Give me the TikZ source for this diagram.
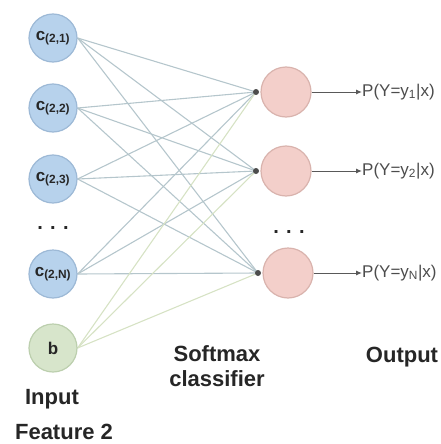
\documentclass[tikz,border=0pt]{standalone}
\usepackage{fontspec}
\setmainfont{Liberation Sans}
\usetikzlibrary{arrows.meta,backgrounds}
\definecolor{inblue}{HTML}{B7D2EC}
\definecolor{inbluedraw}{HTML}{9DB9D6}
\definecolor{ingreen}{HTML}{D7E5CB}
\definecolor{ingreendraw}{HTML}{BCCFAE}
\definecolor{outpink}{HTML}{F3CFCA}
\definecolor{outpinkdraw}{HTML}{D9B3AD}
\definecolor{wireblue}{HTML}{B5C6CC}
\definecolor{wiregreen}{HTML}{D6E2C4}
\begin{document}
\begin{tikzpicture}[x=1pt,y=1pt,
  innode/.style={circle,minimum size=48pt,inner sep=0pt,fill=inblue,draw=inbluedraw,line width=1.2pt,font=\fontsize{17}{17}\selectfont\bfseries,text=black!85},
  bnode/.style={innode,fill=ingreen,draw=ingreendraw},
  outnode/.style={circle,minimum size=50pt,inner sep=0pt,fill=outpink,draw=outpinkdraw,line width=1.2pt},
  joint/.style={circle,fill=black!70,inner sep=0pt,minimum size=6pt},
  wire/.style={draw=wireblue,line width=1.1pt},
  bwire/.style={draw=wiregreen,line width=1.1pt},
  outarrow/.style={draw=black!65,line width=1pt,-{Latex[length=6pt,width=5pt]}},
  plab/.style={font=\fontsize{17}{17}\selectfont,text=black!70,anchor=west,inner sep=0pt},
  head/.style={font=\fontsize{22}{25}\selectfont\bfseries,text=black!85,align=center},
  dots/.style={font=\fontsize{20}{20}\selectfont\bfseries,text=black!85}
]
\useasboundingbox (0,0) rectangle (440,-444);
% input nodes
\node[innode] (c1) at (53,-38) {c\textsubscript{(2,1)}};
\node[innode] (c2) at (53,-108) {c\textsubscript{(2,2)}};
\node[innode] (c3) at (53,-179) {c\textsubscript{(2,3)}};
\node[innode] (cN) at (53,-274) {c\textsubscript{(2,N)}};
\node[bnode] (b) at (53,-348) {b};
\node[dots] (din) at (53,-228) {. . .};
% output nodes
\node[outnode] (o1) at (286,-92) {};
\node[outnode] (o2) at (286,-171) {};
\node[outnode] (o3) at (288,-273) {};
\node[joint] (k1) at (256,-92) {};
\node[joint] (k2) at (256,-171) {};
\node[joint] (k3) at (258,-273) {};
\node[dots] (dout) at (289,-232) {. . .};
% wires behind the nodes
\begin{pgfonlayer}{background}
\foreach \i in {c1,c2,c3,cN}{
  \foreach \j in {k1,k2,k3}{
    \draw[wire] (\i.east) -- (\j.center);
  }
}
\foreach \j in {k1,k2,k3}{
  \draw[bwire] (b.east) -- (\j.center);
}
\end{pgfonlayer}
% output labels
\node[plab] (p1) at (362,-92) {P(Y=y\textsubscript{1}|x)};
\node[plab] (p2) at (362,-171) {P(Y=y\textsubscript{2}|x)};
\node[plab] (p3) at (362,-273) {P(Y=y\textsubscript{N}|x)};
\draw[outarrow] (o1.east) -- (p1.west);
\draw[outarrow] (o2.east) -- (p2.west);
\draw[outarrow] (o3.east) -- (p3.west);
% headings
\node[head] (soft) at (217,-366) {Softmax\\classifier};
\node[head] (outh) at (402,-357) {Output};
\node[head] (inh) at (52,-399) {Input};
\node[head] (feat) at (64,-432) {Feature 2};
\end{tikzpicture}
\end{document}
